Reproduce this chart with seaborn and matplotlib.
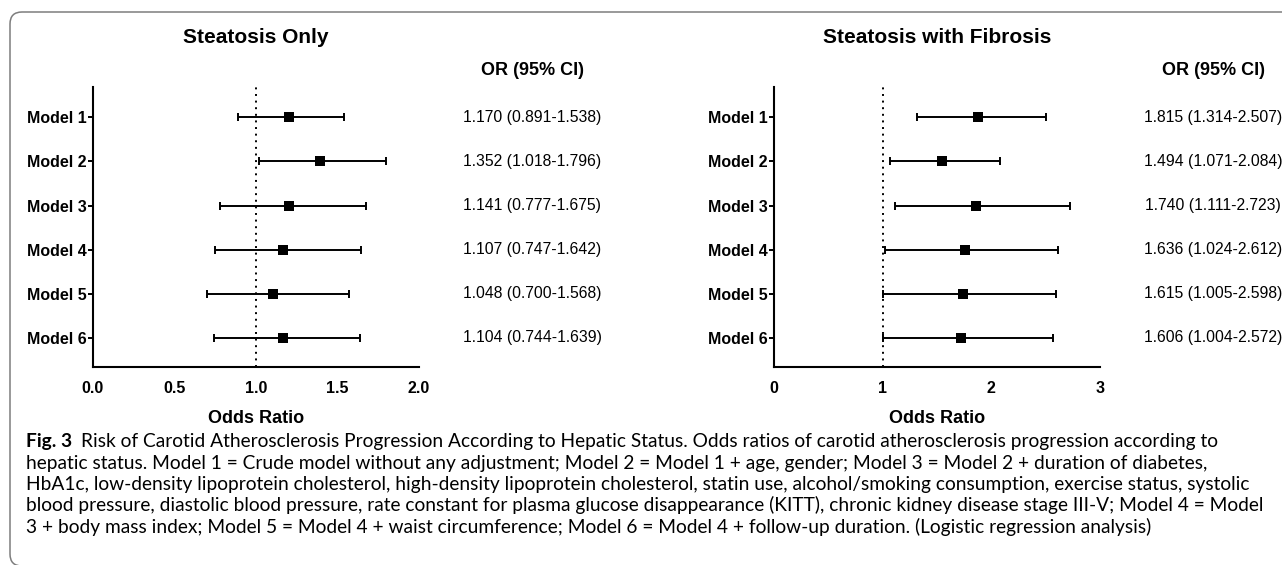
import numpy as np
import pandas as pd
import matplotlib
matplotlib.use("Agg")
import matplotlib.pyplot as plt
import matplotlib.transforms as mtransforms
from matplotlib.patches import FancyBboxPatch
import seaborn as sns

# ---------------- data ----------------
models = ["Model 1", "Model 2", "Model 3", "Model 4", "Model 5", "Model 6"]

only_point = [1.20, 1.39, 1.20, 1.165, 1.105, 1.165]
only_low = [0.891, 1.018, 0.777, 0.747, 0.700, 0.744]
only_high = [1.538, 1.796, 1.675, 1.642, 1.568, 1.639]
only_text = ["1.170 (0.891-1.538)", "1.352 (1.018-1.796)", "1.141 (0.777-1.675)",
             "1.107 (0.747-1.642)", "1.048 (0.700-1.568)", "1.104 (0.744-1.639)"]
only_xticks = [0.0, 0.5, 1.0, 1.5, 2.0]
only_xticklabels = ["0.0", "0.5", "1.0", "1.5", "2.0"]

fib_point = [1.88, 1.55, 1.855, 1.755, 1.74, 1.725]
fib_low = [1.314, 1.071, 1.111, 1.024, 1.005, 1.004]
fib_high = [2.507, 2.084, 2.723, 2.612, 2.598, 2.572]
fib_text = ["1.815 (1.314-2.507)", "1.494 (1.071-2.084)", "1.740 (1.111-2.723)",
            "1.636 (1.024-2.612)", "1.615 (1.005-2.598)", "1.606 (1.004-2.572)"]
fib_xticks = [0, 1, 2, 3]
fib_xticklabels = ["0", "1", "2", "3"]

titles = ["Steatosis Only", "Steatosis with Fibrosis"]
header = "OR (95% CI)"
xlabel = "Odds Ratio"
reference_or = 1.0

caption_bold = "Fig. 3"
caption_lines = [
    "Risk of Carotid Atherosclerosis Progression According to Hepatic Status. Odds ratios of carotid atherosclerosis progression according to",
    "hepatic status. Model 1 = Crude model without any adjustment; Model 2 = Model 1 + age, gender; Model 3 = Model 2 + duration of diabetes,",
    "HbA1c, low-density lipoprotein cholesterol, high-density lipoprotein cholesterol, statin use, alcohol/smoking consumption, exercise status, systolic",
    "blood pressure, diastolic blood pressure, rate constant for plasma glucose disappearance (KITT), chronic kidney disease stage III-V; Model 4 = Model",
    "3 + body mass index; Model 5 = Model 4 + waist circumference; Model 6 = Model 4 + follow-up duration. (Logistic regression analysis)",
]

# ---------------- style ----------------
sns.set_theme(style="white", rc={
    "axes.edgecolor": "black", "text.color": "black", "xtick.color": "black",
    "ytick.color": "black", "axes.labelcolor": "black",
})
plt.rcParams["font.family"] = ["Liberation Sans", "DejaVu Sans"]

W, H = 1282, 565
fig = plt.figure(figsize=(W / 100, H / 100), dpi=100)
fig.patch.set_facecolor("white")

ax_bottom = 1 - 367 / H
ax_height = 280 / H
ax1 = fig.add_axes([93 / W, ax_bottom, 326 / W, ax_height])
ax2 = fig.add_axes([774 / W, ax_bottom, 326 / W, ax_height])


def panel(ax, point, low, high, texts, xticks, xticklabels, xmax, title):
    rows = np.arange(1, len(models) + 1)
    df = pd.DataFrame({"model": models, "row": rows, "point": point,
                       "low": low, "high": high})
    ax.axvline(reference_or, color="black", lw=1.4, linestyle=(0, (1, 2.4)), zorder=1)
    ax.errorbar(df["point"], df["row"],
                xerr=[df["point"] - df["low"], df["high"] - df["point"]],
                fmt="none", ecolor="black", elinewidth=1.4, capsize=3,
                capthick=1.4, zorder=2)
    sns.scatterplot(data=df, x="point", y="row", marker="s", s=44,
                    color="black", edgecolor="black", linewidth=0, ax=ax,
                    zorder=3, legend=False)
    ax.set_xlim(0, xmax)
    ax.set_ylim(6.657, 0.314)
    ax.set_yticks(rows)
    ax.set_yticklabels(models, fontsize=11.5, fontweight="bold")
    ax.set_xticks(xticks)
    ax.set_xticklabels(xticklabels, fontsize=11.5, fontweight="bold")
    ax.tick_params(axis="y", left=True, length=3.6, width=1.4, pad=1)
    ax.tick_params(axis="x", bottom=True, length=0, pad=10)
    for s in ["top", "right"]:
        ax.spines[s].set_visible(False)
    for s in ["left", "bottom"]:
        ax.spines[s].set_linewidth(1.5)
        ax.spines[s].set_color("black")
    ax.set_ylabel("")
    ax.set_xlabel(xlabel, fontsize=13, fontweight="bold", labelpad=10)
    ax.set_title(title, fontsize=15, fontweight="bold", pad=32)
    trans = mtransforms.blended_transform_factory(ax.transAxes, ax.transData)
    ax.text(1.347, -0.07, header, transform=trans, ha="center", va="center",
            fontsize=13, fontweight="bold", clip_on=False)
    for r, t in zip(rows, texts):
        ax.text(1.347, r, t, transform=trans, ha="center", va="center",
                fontsize=11.3, clip_on=False)


panel(ax1, only_point, only_low, only_high, only_text, only_xticks,
      only_xticklabels, 2.0, titles[0])
panel(ax2, fib_point, fib_low, fib_high, fib_text, fib_xticks,
      fib_xticklabels, 3.0, titles[1])

# ---------------- frame (rounded box, top & left visible) ----------------
box = FancyBboxPatch((10 / W, -1 / H), 1.2, 1 - 12 / H + 1 / H,
                     boxstyle=f"round,pad=0,rounding_size={12 / W}",
                     mutation_aspect=W / H, transform=fig.transFigure,
                     fill=False, edgecolor="#7d7d7d", lw=1.1, clip_on=False)
fig.add_artist(box)

# ---------------- caption ----------------
renderer = fig.canvas.get_renderer()
cap_family = ["Lato", "DejaVu Sans"]
probe = fig.text(0, 0, caption_lines[3], fontsize=10, family=cap_family)
w10 = probe.get_window_extent(renderer).width
probe.remove()
cap_fs = 10 * 1245 / w10

baselines = [447, 468.5, 490, 511.5, 533]
x0 = 26
tb = fig.text(x0 / W, 1 - baselines[0] / H, caption_bold, fontsize=cap_fs,
              family=cap_family, fontweight="bold", va="baseline", ha="left")
bw = tb.get_window_extent(renderer).width
fig.text((x0 + bw + 9) / W, 1 - baselines[0] / H, caption_lines[0],
         fontsize=cap_fs, family=cap_family, va="baseline", ha="left")
for yb, line in zip(baselines[1:], caption_lines[1:]):
    fig.text(x0 / W, 1 - yb / H, line, fontsize=cap_fs, family=cap_family,
             va="baseline", ha="left")

fig.savefig("out.png", dpi=100, facecolor="white")
